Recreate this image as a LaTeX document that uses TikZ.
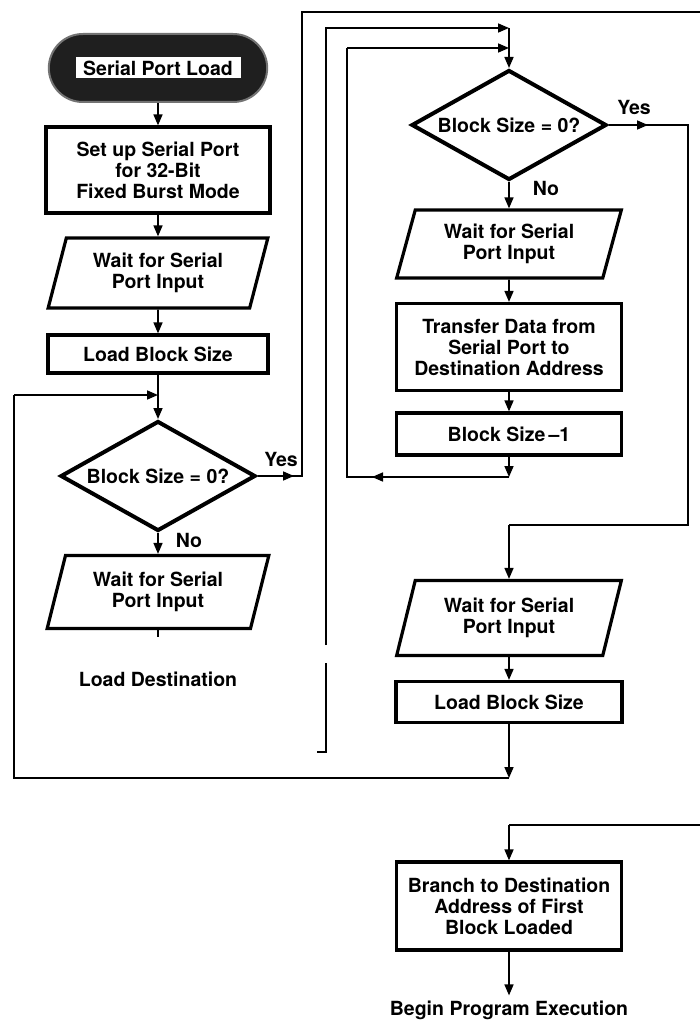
\documentclass[tikz,border=0pt]{standalone}
\usepackage{fontspec}
\setmainfont{TeX Gyre Heros}
\usetikzlibrary{arrows.meta,shapes.geometric,shapes.misc}
\newcommand\nodefont{\fontsize{19.5}{21}\selectfont\bfseries}
\tikzset{
  conn/.style={line width=1.6pt,-{Triangle[length=11pt,width=9pt]}},
  wire/.style={line width=1.6pt},
  procbox/.style={draw,line width=3.2pt,rectangle,align=center,font=\nodefont,inner sep=0pt},
  iobox/.style={draw,line width=3.2pt,trapezium,trapezium left angle=72,trapezium right angle=108,
    trapezium stretches=true,align=center,font=\nodefont,inner sep=0pt},
  decision/.style={draw,line width=4pt,diamond,aspect=1.77,minimum width=195pt,minimum height=110pt,
    font=\nodefont,inner sep=0pt},
  terminal/.style={rounded rectangle,fill=black!88,draw=black!55,line width=2pt,
    minimum width=225pt,minimum height=68pt},
  plaintext/.style={font=\nodefont,inner sep=0pt},
}
\begin{document}
\begin{tikzpicture}[x=1pt,y=-1pt]
\useasboundingbox (0,0) rectangle (700,1022);

% left column
\node[terminal] (term) at (158,68) {};
\node[fill=white,font=\nodefont,minimum width=165pt,minimum height=21pt,inner sep=0pt] (termlbl) at (158,68) {Serial Port Load};
\node[procbox,minimum width=224pt,minimum height=86pt] (setup) at (158,170) {Set up Serial Port\\for 32-Bit\\Fixed Burst Mode};
\node[iobox,minimum width=220pt,minimum height=70pt] (wait1) at (158,273) {Wait for Serial\\Port Input};
\node[procbox,minimum width=220pt,minimum height=38pt] (lbs1) at (158,354) {Load Block Size};
\node[decision] (dec1) at (158,476) {Block Size = 0?};
\node[iobox,minimum width=222pt,minimum height=73pt] (wait2) at (158,592) {Wait for Serial\\Port Input};
\node[plaintext] (loaddest) at (158,679) {Load Destination};

% right column
\node[decision] (dec2) at (509,125) {Block Size = 0?};
\node[iobox,minimum width=225pt,minimum height=68pt] (wait3) at (509,244) {Wait for Serial\\Port Input};
\node[procbox,minimum width=225pt,minimum height=87pt] (xfer) at (509,347) {Transfer Data from\\Serial Port to\\Destination Address};
\node[procbox,minimum width=225pt,minimum height=42pt] (bsm1) at (509,434) {Block Size\,–1};
\node[iobox,minimum width=225pt,minimum height=75pt] (wait4) at (509,618) {Wait for Serial\\Port Input};
\node[procbox,minimum width=226pt,minimum height=41pt] (lbs2) at (509,702) {Load Block Size};
\node[procbox,minimum width=225pt,minimum height=88pt] (branch) at (509,906) {Branch to Destination\\Address of First\\Block Loaded};
\node[plaintext] (begin) at (509,1010) {Begin Program Execution};

% labels
\node[plaintext] (yes1) at (281,459) {Yes};
\node[plaintext] (no1) at (189,540) {No};
\node[plaintext] (yes2) at (634,107) {Yes};
\node[plaintext] (no2) at (546,188) {No};

% coordinates
\coordinate (j1) at (158,395);
\coordinate (lj) at (14,395);
\coordinate (lb) at (14,778);
\coordinate (jb) at (509,778);
\coordinate (y1m) at (294,476);
\coordinate (y1a) at (302,476);
\coordinate (t1) at (302,12);
\coordinate (t1r) at (700,12);
\coordinate (f0) at (317,752);
\coordinate (f1) at (326,752);
\coordinate (g1) at (326,663);
\coordinate (g2) at (326,645);
\coordinate (t2) at (326,28);
\coordinate (a2) at (509,28);
\coordinate (k0) at (509,477);
\coordinate (km) at (372,477);
\coordinate (k1) at (347,477);
\coordinate (t3) at (347,48);
\coordinate (a3) at (509,48);
\coordinate (y2m) at (648,125);
\coordinate (r1) at (688,125);
\coordinate (r2) at (688,525);
\coordinate (r3) at (509,525);
\coordinate (b0) at (700,825);
\coordinate (b1) at (509,825);
\coordinate (stub) at (158,637);

% left column flow
\draw[conn] (term) -- (setup);
\draw[conn] (setup) -- (wait1);
\draw[conn] (wait1) -- (lbs1);
\draw[wire] (lbs1) -- (j1);
\draw[conn] (j1) -- (dec1);
\draw[conn] (dec1) -- (wait2);
\draw[wire] (wait2) -- (stub);
\draw[wire] (dec1.east) -- (y1a) -- (t1) -- (t1r);
\draw[conn] (dec1.east) -- (y1m);

% load destination loop
\draw[wire] (f0) -- (f1) -- (g1);
\draw[conn] (g2) -- (t2) -- (a2);

% right column flow
\draw[conn] (a2) -- (dec2);
\draw[conn] (dec2) -- (wait3);
\draw[conn] (wait3) -- (xfer);
\draw[conn] (xfer) -- (bsm1);
\draw[conn] (bsm1) -- (k0);
\draw[wire] (k0) -- (k1) -- (t3);
\draw[conn] (k0) -- (km);
\draw[conn] (t3) -- (a3);
\draw[wire] (dec2.east) -- (r1) -- (r2) -- (r3);
\draw[conn] (dec2.east) -- (y2m);
\draw[conn] (r3) -- (wait4);
\draw[conn] (wait4) -- (lbs2);
\draw[conn] (lbs2) -- (jb);
\draw[wire] (jb) -- (lb) -- (lj);
\draw[conn] (lj) -- (j1);

% branch
\draw[wire] (b0) -- (b1);
\draw[conn] (b1) -- (branch);
\draw[conn,shorten >=5pt] (branch) -- (begin);
\end{tikzpicture}
\end{document}
